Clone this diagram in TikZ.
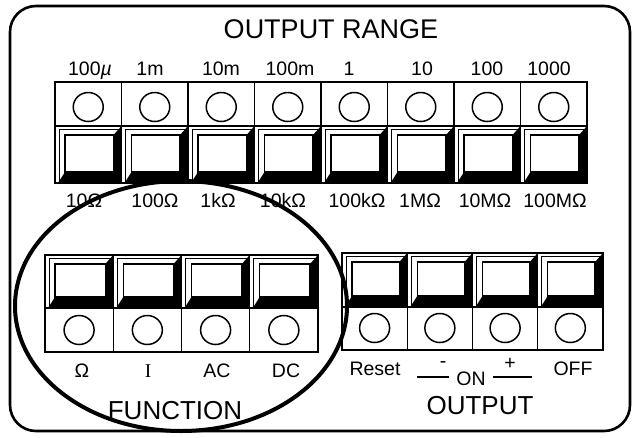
\documentclass[tikz,border=0pt]{standalone}
\usepackage{fontspec}
\setmainfont{Liberation Sans}
\newfontfamily\seriffont{Liberation Serif}
\newcommand\drawkey[4]{%
  \fill[black] ({#3},{#2}) -- ({#3},{#4}) -- ({#1+3},{#4}) -- ({#1+10},{#4-11}) -- ({#3-8},{#4-11}) -- ({#3-8},{#2+9}) -- cycle;
  \draw[bevel] ({#1+4},{#4-1}) -- ({#1+4},{#2+3}) -- ({#3-2},{#2+3});
  \draw[keyface] ({#1+10},{#2+9}) rectangle ({#3-8},{#4-11});
}
\begin{document}
\begin{tikzpicture}[x=1pt,y=-1pt,
  panel/.style={line width=2.4pt},
  divider/.style={line width=1.4pt},
  bevel/.style={line width=0.6pt},
  keyface/.style={fill=white,draw=black,line width=1.4pt},
  circ/.style={line width=1.5pt},
  lbl/.style={font=\fontsize{19.5}{19.5}\selectfont,anchor=base,inner sep=0pt},
  big/.style={font=\fontsize{26}{26}\selectfont,anchor=base,inner sep=0pt},
  ring/.style={line width=4pt}]
\useasboundingbox (0,0) rectangle (634,437);
\fill[white] (0,0) rectangle (634,437);
% outer frame
\draw[line width=2.6pt,rounded corners=26pt] (10,6) rectangle (630,431);
\node[big,font=\fontsize{27}{27}\selectfont] (title) at (331,38) {OUTPUT RANGE};
% ---------- top panel ----------
\foreach \i in {0,...,7} {
  \pgfmathsetmacro\xa{55+66.5*\i}
  \pgfmathsetmacro\xb{\xa+66.5}
  \pgfmathsetmacro\xc{\xa+33.25}
  \drawkey{\xa}{126}{\xb}{183}
  \draw[circ] (\xc,107) ellipse [x radius=15,y radius=14.5];
}
\foreach \i in {1,...,7} {
  \pgfmathsetmacro\xa{55+66.5*\i}
  \draw[divider] (\xa,82) -- (\xa,183);
}
\draw[line width=2pt] (55,126) -- (587,126);
\draw[panel] (55,82) rectangle (587,183);
\foreach \x/\t [count=\k] in {90/{100\textit{µ}},150/1m,221/10m,290/100m,349/1,422/10,487/100,549/1000}
  \node[lbl] (up\k) at (\x,75) {\t};
\foreach \x/\t [count=\k] in {84/10Ω,155/100Ω,218/1kΩ,283/10kΩ,357/100kΩ,420/1MΩ,485/10MΩ,555/100MΩ}
  \node[lbl] (lo\k) at (\x,207) {\t};
% ---------- function panel ----------
\foreach \i in {0,...,3} {
  \pgfmathsetmacro\xa{45+68.25*\i}
  \pgfmathsetmacro\xb{\xa+68.25}
  \pgfmathsetmacro\xc{\xa+34.1}
  \drawkey{\xa}{255}{\xb}{308}
  \draw[circ] (\xc,330) ellipse [x radius=15,y radius=14.5];
}
\foreach \i in {1,...,3} {
  \pgfmathsetmacro\xa{45+68.25*\i}
  \draw[divider] (\xa,255) -- (\xa,352);
}
\draw[divider] (45,308) -- (318,308);
\draw[panel] (45,255) rectangle (318,352);
\node[lbl] (fO) at (82,377) {Ω};
\node[lbl] (fI) at (148,377) {\seriffont I};
\node[lbl] (fAC) at (217,377) {AC};
\node[lbl] (fDC) at (286,377) {DC};
\node[big] (func) at (175,419) {FUNCTION};
% ---------- output panel ----------
\foreach \i in {0,...,3} {
  \pgfmathsetmacro\xa{342+65.25*\i}
  \pgfmathsetmacro\xb{\xa+65.25}
  \pgfmathsetmacro\xc{\xa+32.6}
  \drawkey{\xa}{253}{\xb}{307}
  \draw[circ] (\xc,328) ellipse [x radius=15,y radius=14.5];
}
\foreach \i in {1,...,3} {
  \pgfmathsetmacro\xa{342+65.25*\i}
  \draw[divider] (\xa,253) -- (\xa,350);
}
\draw[divider] (342,307) -- (603,307);
\draw[panel] (342,253) rectangle (603,350);
\node[lbl] (reset) at (375,375) {Reset};
\node[lbl] (off) at (573,375) {OFF};
\node[lbl] (on) at (471,385) {ON};
\node[lbl] (minus) at (443,367.5) {-};
\node[lbl] (plus) at (510,369.5) {+};
\coordinate (la) at (417,377); \coordinate (lb) at (449,377);
\coordinate (ra) at (493,377); \coordinate (rb) at (532,377);
\draw[line width=1.2pt] (la) -- (lb);
\draw[line width=1.2pt] (ra) -- (rb);
\node[big] (outp) at (480,414) {OUTPUT};
% ---------- ring ----------
\draw[ring] (181,306) ellipse [x radius=166,y radius=125];
\end{tikzpicture}
\end{document}
